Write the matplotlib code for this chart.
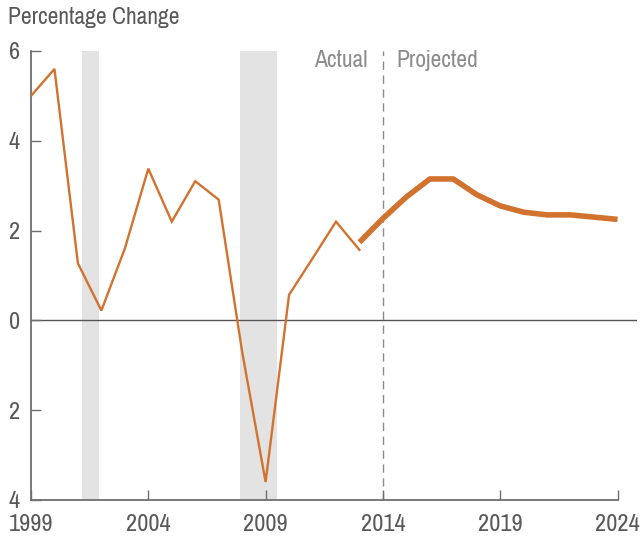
import matplotlib
matplotlib.use('Agg')
import matplotlib.pyplot as plt

plt.rcParams['font.family'] = ['Archivo Narrow', 'DejaVu Sans']

# actual annual values
years_actual = [1999, 2000, 2001, 2002, 2003, 2004, 2005, 2006, 2007,
                2008, 2009, 2010, 2011, 2012, 2013]
vals_actual = [5.0, 5.6, 1.27, 0.22, 1.6, 3.38, 2.2, 3.1, 2.69,
               -0.7, -3.6, 0.57, 1.38, 2.2, 1.57]

# projected values
years_proj = [2013, 2014, 2015, 2016, 2017, 2018, 2019, 2020, 2021,
              2022, 2023, 2024]
vals_proj = [1.74, 2.27, 2.75, 3.15, 3.15, 2.8, 2.55, 2.41, 2.35,
             2.35, 2.3, 2.25]

recessions = [(2001.17, 2001.88), (2007.92, 2009.48)]

xticks = [1999, 2004, 2009, 2014, 2019, 2024]
yticks = [-4, -2, 0, 2, 4, 6]
ylabels = ['4', '2', '0', '2', '4', '6']

orange = '#D2722F'
txt = '#595959'

fig = plt.figure(figsize=(6.41, 5.36), dpi=100)
ax = fig.add_axes([31 / 641, 36 / 536, 606 / 641, 449 / 536])

for a, b in recessions:
    ax.axvspan(a, b, color='#e3e3e3', lw=0, zorder=0)

ax.axhline(0, color='#555555', lw=1.0, zorder=1)
ax.axvline(2014, color='#8c8c8c', lw=1.0, ls=(0, (6, 4)), zorder=1)

ax.plot(years_actual, vals_actual, color=orange, lw=1.7, zorder=3,
        solid_joinstyle='miter')
ax.plot(years_proj, vals_proj, color=orange, lw=4.0, zorder=3,
        solid_capstyle='butt')

ax.set_xlim(1999, 2024.83)
ax.set_ylim(-4, 6)

for s in ['top', 'right']:
    ax.spines[s].set_visible(False)
for s in ['left', 'bottom']:
    ax.spines[s].set_color('#6e6e6e')
    ax.spines[s].set_linewidth(1.3)
ax.spines['bottom'].set_bounds(1999, 2024)

ax.set_xticks(xticks)
ax.set_xticklabels([str(x) for x in xticks])
ax.set_yticks(yticks)
ax.set_yticklabels(ylabels)
ax.tick_params(direction='in', length=7, width=1.0, color='#6e6e6e',
               labelcolor=txt, labelsize=17.5)
ax.tick_params(axis='y', pad=8)
ax.tick_params(axis='x', pad=10)

fig.text(8 / 641, 1 - 17 / 536, 'Percentage Change', ha='left', va='center',
         fontsize=17, color=txt)
ax.text(2013.36, 5.78, 'Actual', ha='right', va='center', fontsize=17,
        color='#8c8c8c')
ax.text(2014.56, 5.78, 'Projected', ha='left', va='center', fontsize=17,
        color='#8c8c8c')

fig.savefig('out.png', dpi=100)
